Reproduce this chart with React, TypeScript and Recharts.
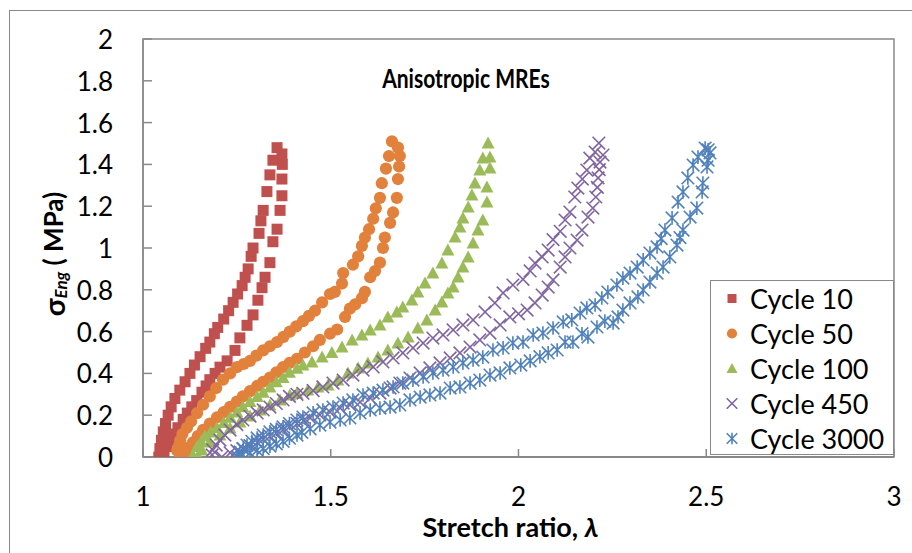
import React from 'react';
import { ScatterChart, Scatter, XAxis, YAxis, ReferenceArea, Legend } from 'recharts';

const FONT = "Lato, 'Open Sans', sans-serif";
const AXIS_GRAY = '#898989';

const xTicks = [1, 1.5, 2, 2.5, 3];
const yTicks = [0, 0.2, 0.4, 0.6, 0.8, 1, 1.2, 1.4, 1.6, 1.8, 2];

const seriesNames = ['Cycle 10', 'Cycle 50', 'Cycle 100', 'Cycle 450', 'Cycle 3000'];
const seriesColors = ['#C0504D', '#E2813B', '#9BBB59', '#8064A2', '#4F81BD'];
const seriesShapes = ['square', 'circle', 'triangle', 'x', 'star'];

// [stretch ratio, engineering stress MPa] — loading branch then unloading branch
const cycle10: [number, number][] = [
  [1.042, 0.0], [1.045, 0.04], [1.049, 0.08], [1.054, 0.12], [1.06, 0.16], [1.067, 0.2], [1.075, 0.24],
  [1.085, 0.28], [1.098, 0.32], [1.112, 0.36], [1.125, 0.4], [1.137, 0.44], [1.152, 0.48], [1.167, 0.52],
  [1.178, 0.55], [1.19, 0.59], [1.199, 0.62], [1.215, 0.66], [1.228, 0.7], [1.24, 0.74], [1.252, 0.78],
  [1.264, 0.82], [1.272, 0.86], [1.28, 0.9], [1.288, 0.96], [1.293, 1.0], [1.309, 1.07], [1.314, 1.13],
  [1.32, 1.18], [1.33, 1.27], [1.338, 1.35], [1.346, 1.42], [1.357, 1.48],
  [1.37, 1.45], [1.371, 1.4], [1.37, 1.33], [1.37, 1.25], [1.365, 1.18], [1.357, 1.09], [1.346, 1.03],
  [1.338, 0.93], [1.325, 0.86], [1.317, 0.81], [1.306, 0.75], [1.293, 0.68], [1.277, 0.63], [1.258, 0.57],
  [1.245, 0.51], [1.224, 0.46], [1.205, 0.43], [1.192, 0.4], [1.178, 0.37], [1.168, 0.34], [1.157, 0.31],
  [1.143, 0.27], [1.13, 0.24], [1.118, 0.21], [1.107, 0.18], [1.093, 0.14], [1.08, 0.11], [1.072, 0.08],
  [1.064, 0.05], [1.056, 0.02], [1.051, 0.0],
];

const cycle50: [number, number][] = [
  [1.091, 0.03], [1.095, 0.05], [1.099, 0.08], [1.105, 0.11], [1.117, 0.14], [1.128, 0.17], [1.144, 0.21],
  [1.16, 0.25], [1.178, 0.29], [1.195, 0.33], [1.213, 0.37], [1.232, 0.4], [1.25, 0.43], [1.268, 0.445],
  [1.285, 0.46], [1.302, 0.485], [1.32, 0.51], [1.338, 0.53], [1.357, 0.55], [1.374, 0.575], [1.391, 0.6],
  [1.408, 0.625], [1.426, 0.65], [1.442, 0.675], [1.458, 0.7], [1.477, 0.74], [1.498, 0.78], [1.511, 0.79],
  [1.53, 0.83], [1.533, 0.88], [1.559, 0.92], [1.573, 0.96], [1.583, 1.01], [1.591, 1.05], [1.602, 1.09],
  [1.613, 1.14], [1.62, 1.19], [1.631, 1.24], [1.636, 1.31], [1.647, 1.38], [1.655, 1.44], [1.663, 1.51],
  [1.679, 1.48], [1.684, 1.44], [1.682, 1.39], [1.679, 1.33], [1.676, 1.24], [1.666, 1.17], [1.658, 1.12],
  [1.644, 1.05], [1.639, 1.0], [1.631, 0.93], [1.618, 0.89], [1.605, 0.86], [1.591, 0.79], [1.583, 0.76],
  [1.565, 0.73], [1.551, 0.71], [1.538, 0.67], [1.517, 0.61], [1.498, 0.59], [1.471, 0.56], [1.453, 0.53],
  [1.431, 0.5], [1.41, 0.47], [1.39, 0.45], [1.373, 0.43], [1.355, 0.405], [1.338, 0.38], [1.32, 0.36],
  [1.304, 0.34], [1.285, 0.315], [1.266, 0.29], [1.25, 0.265], [1.232, 0.24], [1.215, 0.215], [1.197, 0.19],
  [1.178, 0.16], [1.16, 0.13], [1.146, 0.1], [1.133, 0.07], [1.122, 0.045], [1.112, 0.02], [1.099, 0.0],
];

const cycle100: [number, number][] = [
  [1.133, 0.01], [1.144, 0.05], [1.155, 0.075], [1.165, 0.1], [1.18, 0.12], [1.197, 0.14], [1.215, 0.165],
  [1.232, 0.19], [1.25, 0.215], [1.266, 0.24], [1.285, 0.265], [1.304, 0.29], [1.32, 0.31], [1.338, 0.335],
  [1.355, 0.36], [1.373, 0.38], [1.39, 0.405], [1.41, 0.425], [1.426, 0.44], [1.45, 0.455], [1.477, 0.478],
  [1.503, 0.5], [1.53, 0.526], [1.557, 0.56], [1.583, 0.584], [1.605, 0.608], [1.631, 0.632], [1.652, 0.67],
  [1.676, 0.694], [1.692, 0.718], [1.716, 0.751], [1.732, 0.789], [1.751, 0.833], [1.772, 0.88], [1.796, 0.928],
  [1.812, 0.99], [1.831, 1.053], [1.844, 1.1], [1.852, 1.144], [1.866, 1.196], [1.876, 1.254], [1.884, 1.311],
  [1.897, 1.373], [1.905, 1.431], [1.919, 1.502],
  [1.924, 1.435], [1.924, 1.383], [1.916, 1.292], [1.916, 1.22], [1.905, 1.134], [1.892, 1.086], [1.879, 1.024],
  [1.866, 0.957], [1.852, 0.909], [1.839, 0.861], [1.826, 0.813], [1.812, 0.785], [1.796, 0.742], [1.778, 0.703],
  [1.756, 0.656], [1.732, 0.617], [1.706, 0.574], [1.679, 0.545], [1.652, 0.512], [1.626, 0.478], [1.599, 0.45],
  [1.573, 0.426], [1.546, 0.402], [1.519, 0.368], [1.493, 0.344], [1.466, 0.335], [1.439, 0.32], [1.41, 0.305],
  [1.391, 0.297], [1.365, 0.273], [1.338, 0.249], [1.312, 0.225], [1.285, 0.196], [1.258, 0.167], [1.232, 0.139],
  [1.205, 0.105], [1.178, 0.072], [1.157, 0.033], [1.146, 0.005],
];

const cycle450: [number, number][] = [
  [1.184, 0.01], [1.186, 0.033], [1.195, 0.057], [1.205, 0.081], [1.218, 0.105], [1.232, 0.129], [1.25, 0.155],
  [1.266, 0.177], [1.285, 0.195], [1.304, 0.211], [1.32, 0.225], [1.338, 0.239], [1.355, 0.256], [1.373, 0.273],
  [1.39, 0.29], [1.41, 0.3], [1.426, 0.305], [1.453, 0.318], [1.479, 0.335], [1.506, 0.354], [1.533, 0.368],
  [1.559, 0.392], [1.586, 0.416], [1.613, 0.431], [1.639, 0.455], [1.666, 0.474], [1.692, 0.498], [1.719, 0.522],
  [1.746, 0.545], [1.772, 0.569], [1.799, 0.584], [1.826, 0.608], [1.852, 0.632], [1.879, 0.656], [1.911, 0.694],
  [1.937, 0.737], [1.959, 0.785], [1.985, 0.823], [2.012, 0.85], [2.031, 0.89], [2.044, 0.928], [2.063, 0.957],
  [2.079, 0.99], [2.092, 1.04], [2.111, 1.08], [2.124, 1.134], [2.137, 1.172], [2.15, 1.244], [2.158, 1.287],
  [2.17, 1.33], [2.182, 1.373], [2.19, 1.43], [2.204, 1.459], [2.214, 1.502],
  [2.225, 1.445], [2.217, 1.411], [2.215, 1.375], [2.212, 1.335], [2.21, 1.29], [2.206, 1.244], [2.198, 1.191],
  [2.185, 1.148], [2.169, 1.086], [2.156, 1.038], [2.137, 1.0], [2.124, 0.957], [2.111, 0.909], [2.092, 0.847],
  [2.079, 0.813], [2.063, 0.775], [2.044, 0.737], [2.023, 0.703], [2.0, 0.685], [1.977, 0.67], [1.951, 0.632],
  [1.924, 0.593], [1.897, 0.56], [1.871, 0.526], [1.844, 0.498], [1.818, 0.474], [1.791, 0.45], [1.764, 0.426],
  [1.738, 0.402], [1.711, 0.378], [1.684, 0.354], [1.658, 0.33], [1.631, 0.306], [1.605, 0.282], [1.578, 0.263],
  [1.551, 0.249], [1.525, 0.234], [1.498, 0.215], [1.471, 0.201], [1.445, 0.187], [1.428, 0.175], [1.41, 0.16],
  [1.39, 0.145], [1.373, 0.13], [1.355, 0.115], [1.338, 0.1], [1.32, 0.085], [1.304, 0.07], [1.285, 0.055],
  [1.266, 0.04], [1.25, 0.03], [1.232, 0.02], [1.21, 0.0],
];

const cycle3000: [number, number][] = [
  [1.253, 0.0], [1.258, 0.024], [1.267, 0.04], [1.277, 0.057], [1.29, 0.075], [1.304, 0.091], [1.32, 0.105],
  [1.338, 0.12], [1.355, 0.132], [1.373, 0.144], [1.39, 0.16], [1.41, 0.177], [1.426, 0.191], [1.453, 0.211],
  [1.479, 0.225], [1.506, 0.239], [1.533, 0.258], [1.559, 0.273], [1.586, 0.297], [1.613, 0.306], [1.639, 0.32],
  [1.666, 0.335], [1.692, 0.354], [1.719, 0.368], [1.746, 0.383], [1.772, 0.402], [1.799, 0.416], [1.826, 0.431],
  [1.852, 0.45], [1.879, 0.464], [1.905, 0.478], [1.932, 0.512], [1.959, 0.522], [1.985, 0.545], [2.012, 0.55],
  [2.039, 0.584], [2.065, 0.593], [2.092, 0.617], [2.119, 0.646], [2.142, 0.656], [2.164, 0.689], [2.182, 0.713],
  [2.204, 0.727], [2.222, 0.761], [2.238, 0.789], [2.262, 0.823], [2.278, 0.856], [2.297, 0.88], [2.316, 0.909],
  [2.332, 0.943], [2.35, 0.976], [2.369, 1.005], [2.38, 1.045], [2.39, 1.086], [2.409, 1.144], [2.425, 1.22],
  [2.438, 1.268], [2.451, 1.335], [2.465, 1.397], [2.478, 1.435], [2.497, 1.478],
  [2.505, 1.47], [2.51, 1.455], [2.505, 1.42], [2.502, 1.388], [2.491, 1.311], [2.489, 1.268], [2.475, 1.191],
  [2.457, 1.148], [2.438, 1.086], [2.43, 1.05], [2.422, 1.014], [2.403, 0.957], [2.385, 0.909], [2.369, 0.88],
  [2.35, 0.837], [2.332, 0.799], [2.318, 0.766], [2.297, 0.737], [2.278, 0.703], [2.265, 0.67], [2.252, 0.641],
  [2.23, 0.65], [2.209, 0.622], [2.185, 0.574], [2.169, 0.59], [2.145, 0.55], [2.124, 0.55], [2.103, 0.512],
  [2.079, 0.498], [2.057, 0.48], [2.031, 0.46], [2.006, 0.44], [1.977, 0.426], [1.951, 0.402], [1.924, 0.392],
  [1.897, 0.368], [1.871, 0.354], [1.844, 0.335], [1.818, 0.33], [1.791, 0.306], [1.764, 0.297], [1.738, 0.287],
  [1.711, 0.273], [1.684, 0.249], [1.658, 0.239], [1.631, 0.234], [1.605, 0.225], [1.578, 0.211], [1.551, 0.187],
  [1.525, 0.177], [1.498, 0.167], [1.471, 0.153], [1.445, 0.135], [1.423, 0.118], [1.41, 0.105], [1.39, 0.09],
  [1.373, 0.075], [1.355, 0.063], [1.338, 0.052], [1.32, 0.04], [1.304, 0.032], [1.285, 0.02], [1.266, 0.01],
  [1.25, 0.0],
];

const seriesData = [cycle10, cycle50, cycle100, cycle450, cycle3000];

const series = seriesNames.map((name, i) => ({
  name,
  color: seriesColors[i],
  shape: seriesShapes[i],
  data: seriesData[i].map(([x, y]) => ({ x, y })),
}));

function Marker({ kind, cx, cy, color, s }: { kind: string; cx: number; cy: number; color: string; s: number }) {
  const h = s / 2;
  if (kind === 'square') return <rect x={cx - h} y={cy - h} width={s} height={s} fill={color} />;
  if (kind === 'circle') return <circle cx={cx} cy={cy} r={h + 0.6} fill={color} />;
  if (kind === 'triangle')
    return <polygon points={`${cx},${cy - h - 1} ${cx + h + 1},${cy + h} ${cx - h - 1},${cy + h}`} fill={color} />;
  const g = h + 0.8;
  if (kind === 'x')
    return (
      <path
        d={`M${cx - g},${cy - g}L${cx + g},${cy + g}M${cx - g},${cy + g}L${cx + g},${cy - g}`}
        stroke={color}
        strokeWidth={1.6}
        fill="none"
      />
    );
  return (
    <path
      d={`M${cx - g},${cy - g}L${cx + g},${cy + g}M${cx - g},${cy + g}L${cx + g},${cy - g}M${cx},${cy - g - 0.5}L${cx},${cy + g + 0.5}`}
      stroke={color}
      strokeWidth={1.6}
      fill="none"
    />
  );
}

const XTick = (props: any) => {
  const { x, y, payload } = props;
  const axisY = y - 39;
  return (
    <g>
      <line x1={x} y1={axisY} x2={x} y2={axisY - 8} stroke={AXIS_GRAY} strokeWidth={1.5} />
      <text x={x} y={y} textAnchor="middle" dominantBaseline="central" fontFamily={FONT} fontSize={26} fill="#000">
        {String(payload.value)}
      </text>
    </g>
  );
};

const YTick = (props: any) => {
  const { x, y, payload } = props;
  const axisX = x + 30;
  return (
    <g>
      <line x1={axisX} y1={y} x2={axisX + 9} y2={y} stroke={AXIS_GRAY} strokeWidth={1.5} />
      <text x={x} y={y} textAnchor="end" dominantBaseline="central" fontFamily={FONT} fontSize={26} fill="#000">
        {String(payload.value)}
      </text>
    </g>
  );
};

const YTitle = (props: any) => {
  const vb = props.viewBox || { x: 83, y: 39, width: 60, height: 418 };
  const cx = vb.x - 30;
  const cy = vb.y + vb.height / 2 + 6;
  return (
    <text
      x={cx}
      y={cy}
      transform={`rotate(-90 ${cx} ${cy})`}
      textAnchor="middle"
      dominantBaseline="central"
      fontFamily={FONT}
      fontWeight="bold"
      fontSize={26}
      fill="#000"
    >
      <tspan fontSize={29}>σ</tspan>
      <tspan fontSize={17} fontStyle="italic" dy={7}>Eng</tspan>
      <tspan dy={-7}> ( MPa)</tspan>
    </text>
  );
};

const XTitle = (props: any) => {
  const vb = props.viewBox || { x: 143, y: 457, width: 751, height: 30 };
  return (
    <text
      x={vb.x + vb.width / 2 - 8}
      y={526}
      textAnchor="middle"
      dominantBaseline="central"
      fontFamily={FONT}
      fontWeight="bold"
      fontSize={27}
      fill="#000"
    >
      Stretch ratio, <tspan fontStyle="italic">λ</tspan>
    </text>
  );
};

const LegendBox = () => (
  <div
    style={{
      width: 184,
      height: 175,
      boxSizing: 'border-box',
      border: `1.5px solid ${AXIS_GRAY}`,
      background: '#fff',
      fontFamily: FONT,
      fontSize: 27,
      color: '#000',
    }}
  >
    {series.map((s) => (
      <div key={s.name} style={{ height: 35, display: 'flex', alignItems: 'center' }}>
        <svg width={39} height={35} style={{ flex: 'none' }}>
          <Marker kind={s.shape} cx={21} cy={17.5} color={s.color} s={9} />
        </svg>
        <span style={{ lineHeight: '35px', whiteSpace: 'nowrap' }}>{s.name}</span>
      </div>
    ))}
  </div>
);

export default function App() {
  return (
    <div style={{ position: 'absolute', left: 0, top: 0, width: 912, height: 553, background: '#fff', overflow: 'hidden' }}>
      <div
        style={{
          position: 'absolute',
          left: 9,
          top: 10,
          width: 910,
          height: 560,
          border: `1.5px solid ${AXIS_GRAY}`,
          boxSizing: 'border-box',
        }}
      />
      <div
        style={{
          position: 'absolute',
          left: 266,
          top: 60,
          width: 400,
          textAlign: 'center',
          fontFamily: FONT,
          fontWeight: 'bold',
          fontSize: 27,
          lineHeight: '36px',
          color: '#000',
          transform: 'scaleX(0.78)',
          transformOrigin: '200px 18px',
        }}
      >
        Anisotropic MREs
      </div>
      <div style={{ position: 'absolute', left: 0, top: 0 }}>
        <ScatterChart width={912} height={553} margin={{ top: 39, right: 18, bottom: 66, left: 83 }}>
          <ReferenceArea x1={1} x2={3} y1={0} y2={2} fill="none" fillOpacity={0} stroke={AXIS_GRAY} strokeWidth={1.5} />
          <XAxis
            type="number"
            dataKey="x"
            domain={[1, 3]}
            ticks={xTicks}
            interval={0}
            tickSize={0}
            tickMargin={39}
            tickLine={false}
            tick={XTick}
            height={30}
            axisLine={{ stroke: AXIS_GRAY, strokeWidth: 2 }}
            allowDataOverflow
            label={XTitle}
          />
          <YAxis
            type="number"
            dataKey="y"
            domain={[0, 2]}
            ticks={yTicks}
            interval={0}
            tickSize={0}
            tickMargin={30}
            tickLine={false}
            tick={YTick}
            width={60}
            axisLine={{ stroke: AXIS_GRAY, strokeWidth: 1.5 }}
            allowDataOverflow
            label={YTitle}
          />
          {series.map((s) => (
            <Scatter
              key={s.name}
              name={s.name}
              data={s.data}
              fill={s.color}
              isAnimationActive={false}
              shape={(p: any) => <Marker kind={s.shape} cx={p.cx} cy={p.cy} color={s.color} s={11} />}
            />
          ))}
          <Legend
            layout="vertical"
            align="center"
            verticalAlign="middle"
            wrapperStyle={{ position: 'absolute', left: 710, top: 280, width: 184, height: 175, margin: 0, padding: 0 }}
            content={() => <LegendBox />}
          />
        </ScatterChart>
      </div>
    </div>
  );
}
